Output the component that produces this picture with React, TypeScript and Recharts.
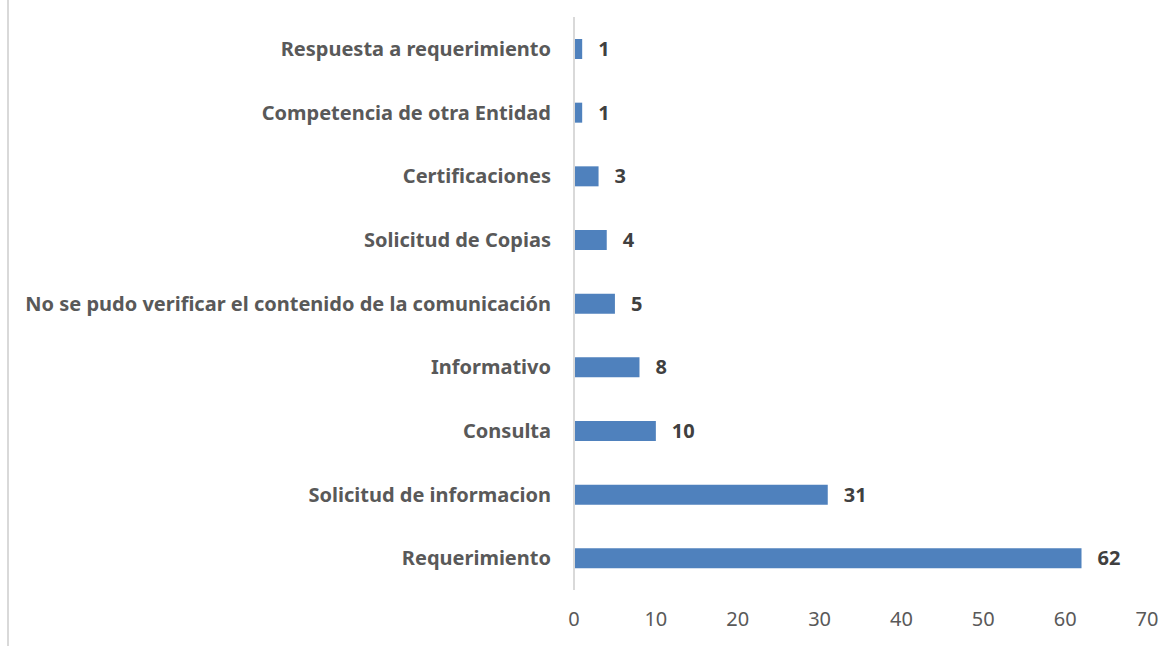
import React from 'react';
import { BarChart, Bar, XAxis, YAxis, LabelList } from 'recharts';

const categories = [
  'Respuesta a requerimiento',
  'Competencia de otra Entidad',
  'Certificaciones',
  'Solicitud de Copias',
  'No se pudo verificar el contenido de la comunicación',
  'Informativo',
  'Consulta',
  'Solicitud de informacion',
  'Requerimiento',
];
const counts = [1, 1, 3, 4, 5, 8, 10, 31, 62];
const xTicks = [0, 10, 20, 30, 40, 50, 60, 70];

const data = categories.map((name, i) => ({ name, value: counts[i] }));

const FONT = '"Noto Sans", "Open Sans", sans-serif';

export default function App() {
  return (
    <div style={{ position: 'absolute', left: 0, top: 0, width: 1173, height: 646, background: '#fff' }}>
      <div style={{ position: 'absolute', left: 7, top: 0, width: 2, height: 646, background: '#d9d9d9' }} />
      <BarChart
        width={1173}
        height={646}
        data={data}
        layout="vertical"
        margin={{ top: 17, right: 26, bottom: 26, left: 0 }}
        barSize={20}
      >
        <XAxis
          type="number"
          domain={[0, 70]}
          ticks={xTicks}
          axisLine={false}
          tickLine={false}
          tickMargin={16}
          height={30}
          tick={{ fill: '#595959', fontSize: 20, fontFamily: FONT }}
          interval={0}
        />
        <YAxis
          type="category"
          dataKey="name"
          width={574}
          axisLine={{ stroke: '#d9d9d9', strokeWidth: 2 }}
          tickLine={false}
          tickMargin={17}
          interval={0}
          tick={{ fill: '#595959', fontSize: 20, fontWeight: 700, fontFamily: FONT }}
        />
        <Bar dataKey="value" fill="#4f81bd" isAnimationActive={false}>
          <LabelList
            dataKey="value"
            position="right"
            offset={16}
            fill="#404040"
            fontSize={20}
            fontWeight={700}
            fontFamily={FONT}
          />
        </Bar>
      </BarChart>
    </div>
  );
}
